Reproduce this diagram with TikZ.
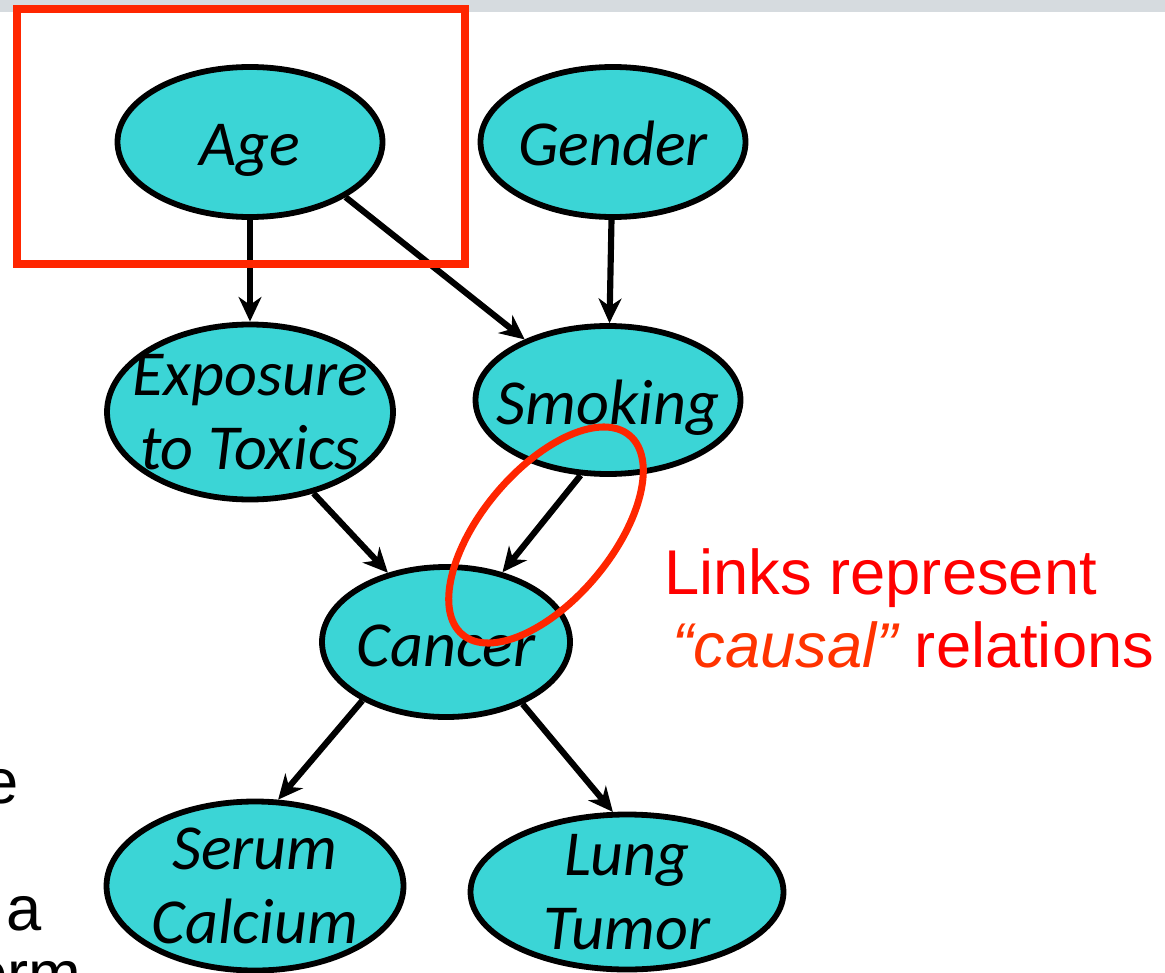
\documentclass[tikz,border=0pt]{standalone}
\usepackage{fontspec}
\usetikzlibrary{arrows.meta,shapes.geometric}
\newfontfamily\calibfont{Carlito}
\newfontfamily\arialfont{Liberation Sans}
\definecolor{nodecyan}{RGB}{59,213,214}
\definecolor{boxred}{RGB}{255,38,0}
\definecolor{notered}{RGB}{255,0,0}
\definecolor{causalred}{RGB}{255,51,0}
\definecolor{bargray}{RGB}{214,219,223}

\tikzset{
  var/.style={ellipse, draw=black, fill=nodecyan, line width=3.3pt, inner xsep=-1.3cm, inner ysep=-0.7cm,
    align=center, font=\calibfont\itshape\fontsize{36.5}{42}\selectfont},
  oneline/.style={text height=0.96cm, text depth=0cm},
  causes/.style={line width=3.5pt, -{Stealth[length=14pt,width=13pt,inset=4.5pt]}},
  hilite/.style={draw=boxred, line width=4.3pt},
  remark/.style={inner sep=0pt, font=\arialfont\fontsize{36}{41.5}\selectfont},
}

\begin{document}
\begin{tikzpicture}
            \useasboundingbox (0,0) rectangle (23.3,-19.46);
            \fill[bargray] (0,0) rectangle (23.3,-0.25);

            % variables
            \node[var, oneline, minimum width=5.3cm, minimum height=3cm] (age) at (5.0,-2.84) {Age};
            \node[var, oneline, minimum width=5.3cm, minimum height=3cm] (gender) at (12.26,-2.84) {Gender};
            \node[var, minimum width=5.72cm, minimum height=3.5cm] (exposure) at (5.0,-8.24) {Exposure\\to Toxics};
            \node[var, oneline, minimum width=5.3cm, minimum height=2.96cm] (smoking) at (12.16,-8.0) {Smoking};
            \node[var, oneline, minimum width=4.96cm, minimum height=3cm] (cancer) at (8.92,-12.84) {Cancer};
            \node[var, minimum width=5.94cm, minimum height=3.38cm] (serum) at (5.1,-17.72) {Serum\\Calcium};
            \node[var, minimum width=6.26cm, minimum height=3.1cm] (lung) at (12.54,-17.84) {Lung\\Tumor};

            % links
            \draw[causes] (age) -- (exposure);
            \draw[causes] (age.-30) -- (smoking.144);
            \draw[causes] (gender) -- (smoking);
            \draw[causes] (exposure.-52) -- (cancer.130);
            \draw[causes] (smoking.-110) -- (cancer.51);
            \draw[causes] (cancer.215) -- (serum.75);
            \draw[causes] (cancer.-39) -- (lung.100);

            % highlights
            \draw[hilite] (0.34,-0.18) rectangle (9.3,-5.28);
            \draw[hilite, line width=4pt] (10.92,-10.7) ellipse [x radius=2.6cm, y radius=1.3cm, rotate=50];

            \node[remark, text=notered, anchor=base west] (links) at (13.28,-11.88) {Links represent};
            \node[remark, text=notered, anchor=base west] (causal) at (13.44,-13.34) {\textcolor{causalred}{\itshape “causal”} relations};

            % cut-off slide text
            \node[remark, anchor=base east] (fragE) at (0.38,-16.06) {e};
            \node[remark, anchor=base west] (fragA) at (0.12,-18.6) {a};
            \node[remark, anchor=base east] (fragOrm) at (1.64,-19.9) {orm};
        \end{tikzpicture}
\end{document}
